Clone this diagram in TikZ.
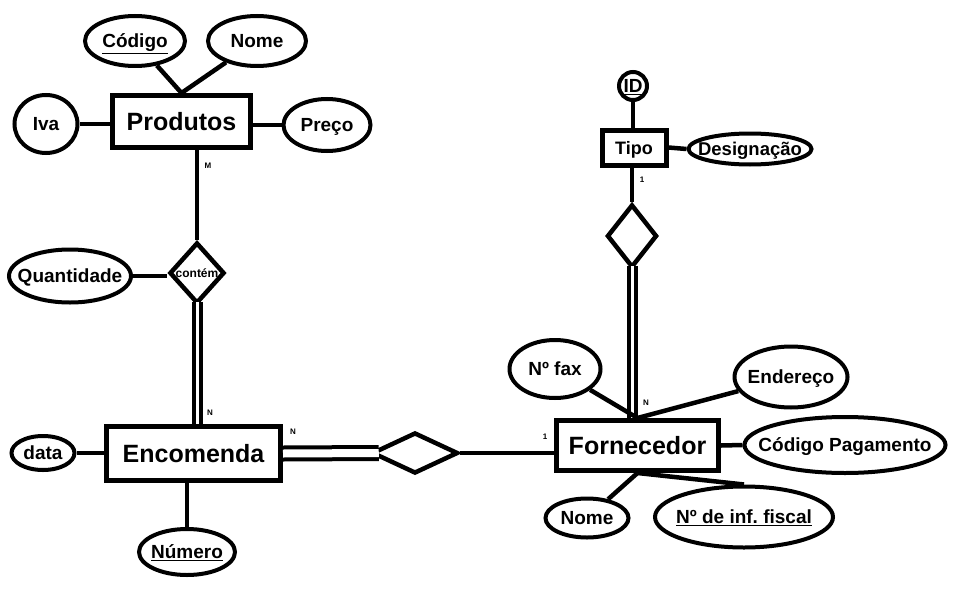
\documentclass[tikz,border=0pt]{standalone}
\usepackage{fontspec}
\setmainfont{Liberation Sans}
\usetikzlibrary{shapes.geometric}
\newcommand\lbl[1]{\makebox[0pt]{#1}}
\frenchspacing

\begin{document}
\begin{tikzpicture}[x=1pt,y=-1pt,line width=4.5pt,
    entity/.style={draw,rectangle,inner sep=0pt,line width=5pt,text height=18pt,text depth=0pt,font=\fontsize{25}{30}\selectfont\bfseries},
    attr/.style={draw,ellipse,inner sep=0pt,line width=4pt,text height=13.5pt,text depth=0pt,font=\fontsize{19}{23}\selectfont\bfseries},
    rel/.style={draw,diamond,inner sep=0pt,text height=8.5pt,text depth=0pt,font=\fontsize{12}{14}\selectfont\bfseries},
    card/.style={font=\fontsize{8}{10}\selectfont\bfseries},
    total/.style={double,double distance=3pt,line width=4pt}]
  \useasboundingbox (0,0) rectangle (957,615);
  % entidades e relacoes
  \node[entity,minimum width=138pt,minimum height=52pt] (Produtos) at (181.5,121.5) {Produtos};
  \node[rel,minimum width=55pt,minimum height=61pt] (Contem) at (197,273) {\lbl{contém}};
  \node[entity,minimum width=174pt,minimum height=54pt] (Encomenda) at (193.5,453.5) {Encomenda};
  \node[rel,minimum width=86pt,minimum height=41pt] (Fornece) at (415,453) {};
  \node[entity,minimum width=162pt,minimum height=50pt] (Fornecedor) at (637.5,445.5) {Fornecedor};
  \node[rel,minimum width=50pt,minimum height=63pt] (Tem) at (632,236) {};
  \node[entity,minimum width=64pt,minimum height=35pt,text height=13pt,font=\fontsize{18}{22}\selectfont\bfseries] (Tipo) at (634,147.5) {Tipo};
  % atributos
  \node[attr,minimum width=100pt,minimum height=50pt] (Codigo) at (135,41) {\lbl{\underline{Código}}};
  \node[attr,minimum width=98pt,minimum height=50pt] (NomeP) at (257,41) {\lbl{Nome}};
  \node[attr,minimum width=63pt,minimum height=58pt] (Iva) at (46,124) {\lbl{Iva}};
  \node[attr,minimum width=87pt,minimum height=52pt] (Preco) at (327,125) {\lbl{Preço}};
  \node[attr,minimum width=122pt,minimum height=53pt] (Quantidade) at (70,276) {\lbl{Quantidade}};
  \node[attr,minimum width=63pt,minimum height=34pt] (Data) at (43,453) {\lbl{data}};
  \node[attr,minimum width=96pt,minimum height=46pt] (Numero) at (187,552) {\lbl{\underline{Número}}};
  \node[attr,minimum width=201pt,minimum height=56pt] (CodPag) at (845,445) {\lbl{Código Pagamento}};
  \node[attr,minimum width=83pt,minimum height=39pt] (NomeF) at (587,518) {\lbl{Nome}};
  \node[attr,minimum width=178pt,minimum height=61pt] (NIF) at (744,517) {\lbl{\underline{Nº de inf. fiscal}}};
  \node[attr,minimum width=91pt,minimum height=58pt] (Fax) at (555,369) {\lbl{Nº fax}};
  \node[attr,minimum width=113pt,minimum height=61pt] (Endereco) at (791,377) {\lbl{Endereço}};
  \node[attr,minimum width=123pt,minimum height=31pt,font=\fontsize{18.5}{22}\selectfont\bfseries] (Designacao) at (750,149) {\lbl{Designação}};
  \node[attr,circle,minimum size=28pt] (ID) at (633,86) {\lbl{\underline{ID}}};
  % ligacoes
  \draw (Codigo) -- (Produtos.north);
  \draw (NomeP) -- (Produtos.north);
  \draw (Iva.east) -- (Iva.east -| Produtos.west);
  \draw (Preco.west) -- (Preco.west -| Produtos.east);
  \draw (Contem.north) -- (Contem.north |- Produtos.south);
  \draw (Quantidade.east) -- (Quantidade.east -| Contem.west);
  \draw[total] ([yshift=4pt]Contem.south) -- (Contem.south |- Encomenda.north);
  \draw (Data.east) -- (Data.east -| Encomenda.west);
  \draw (Numero.north) -- (Numero.north |- Encomenda.south);
  \draw[total,double distance=8pt] (Encomenda.east) -- ([xshift=9pt]Fornece.west);
  \draw (Fornece.east) -- (Fornece.east -| Fornecedor.west);
  \draw[total] ([yshift=4pt]Tem.south) -- (Tem.south |- Fornecedor.north);
  \draw (Tem.north) -- (Tem.north |- Tipo.south);
  \draw (ID.south) -- (ID.south |- Tipo.north);
  \draw (Tipo.east) -- (Designacao.west);
  \draw (Fax) -- (Fornecedor.north);
  \draw (Endereco) -- (Fornecedor.north);
  \draw (Fornecedor.east) -- (CodPag.west);
  \draw (Fornecedor.south) -- (NomeF);
  \draw (Fornecedor.south) -- (NIF.north);
  % cardinalidades
  \node[card] (cardM) at (208,166) {M};
  \node[card] (cardN1) at (210,413) {N};
  \node[card] (cardN2) at (293,432) {N};
  \node[card] (card11) at (545,437) {1};
  \node[card] (cardN3) at (646,403) {N};
  \node[card] (card12) at (642,180) {1};
\end{tikzpicture}
\end{document}
